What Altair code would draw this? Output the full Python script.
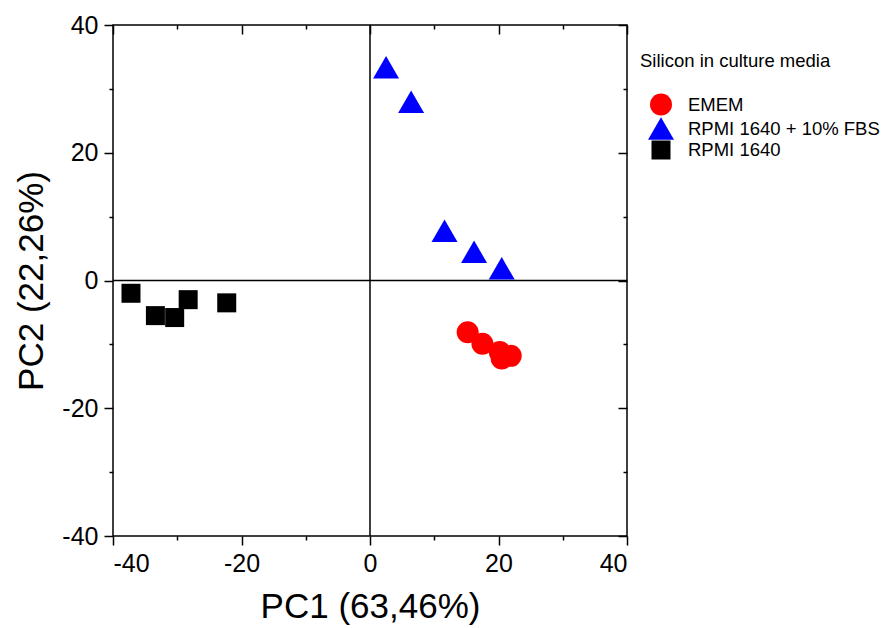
import altair as alt
import pandas as pd

FONT = "Liberation Sans"

groups = ["EMEM", "RPMI 1640 + 10% FBS", "RPMI 1640"]
colors = ["#ff0000", "#0000ff", "#000000"]
shapes = ["circle", "triangle-up", "square"]
sizes = [484, 676, 361]

emem_x = [15.2, 17.5, 20.2, 20.5, 21.9]
emem_y = [-8.1, -9.9, -11.2, -12.2, -11.8]
fbs_x = [2.5, 6.4, 11.6, 16.2, 20.5]
fbs_y = [33.4, 28.0, 7.8, 4.5, 1.9]
rpmi_x = [-37.2, -33.4, -30.4, -28.3, -22.3]
rpmi_y = [-2.0, -5.5, -5.8, -3.0, -3.5]

x_major = [-40, -20, 0, 20, 40]
x_minor = [-30, -10, 10, 30]
y_major = [-40, -20, 0, 20, 40]
y_minor = [-30, -10, 10, 30]
zero = [0]

rows = []
for g, xs_, ys_ in zip(groups, [emem_x, fbs_x, rpmi_x], [emem_y, fbs_y, rpmi_y]):
    for a, b in zip(xs_, ys_):
        rows.append({"pc1": a, "pc2": b, "group": g})
df = pd.DataFrame(rows)

xsc = alt.Scale(domain=[-40, 40], nice=False, zero=False)
ysc = alt.Scale(domain=[-40, 40], nice=False, zero=False)

def ax(orient, values, size, offset=0, labels=False, title=None, **kw):
    d = dict(orient=orient, values=values, tickSize=size, tickWidth=1.5,
             tickColor="black", domain=False, grid=False, labels=labels,
             title=title, offset=offset)
    d.update(kw)
    return alt.Axis(**d)

leg = alt.Legend(
    title="Silicon in culture media", orient="none", legendX=527, legendY=27,
    titleFont=FONT, titleFontSize=18.5, titleFontWeight="normal", titleColor="black",
    titlePadding=23, titleLimit=400,
    labelFont=FONT, labelFontSize=18.5, labelColor="black", labelLimit=400,
    symbolOffset=8, labelOffset=14, rowPadding=0, symbolStrokeWidth=0,
)

lab = dict(labelFont=FONT, labelFontSize=25, labelColor="black", labelPadding=6,
           labelExpr="'' + datum.value",
           titleFont=FONT, titleFontSize=35, titleFontWeight="normal",
           titleColor="black")

base = alt.Chart(df)

points = base.mark_point(filled=True, opacity=1, strokeWidth=0).encode(
    x=alt.X("pc1:Q", scale=xsc, axis=ax(
        "bottom", x_major, 9, labels=True, title="PC1 (63,46%)",
        titlePadding=13, **lab)),
    y=alt.Y("pc2:Q", scale=ysc, axis=ax(
        "left", y_major, 9, labels=True, title="PC2 (22,26%)",
        titlePadding=12, **lab)),
    color=alt.Color("group:N", scale=alt.Scale(domain=groups, range=colors), legend=leg),
    shape=alt.Shape("group:N", scale=alt.Scale(domain=groups, range=shapes), legend=leg),
    size=alt.Size("group:N", scale=alt.Scale(type="ordinal", domain=groups, range=sizes),
                  legend=leg),
)

minor_bl = base.mark_point(opacity=0).encode(
    x=alt.X("pc1:Q", scale=xsc, axis=ax("bottom", x_minor, 4)),
    y=alt.Y("pc2:Q", scale=ysc, axis=ax("left", y_minor, 4)),
)
major_tr = base.mark_point(opacity=0).encode(
    x=alt.X("pc1:Q", scale=xsc, axis=ax("top", x_major, 9, offset=-9)),
    y=alt.Y("pc2:Q", scale=ysc, axis=ax("right", y_major, 9, offset=-9)),
)
minor_tr = base.mark_point(opacity=0).encode(
    x=alt.X("pc1:Q", scale=xsc, axis=ax("top", x_minor, 4, offset=-4)),
    y=alt.Y("pc2:Q", scale=ysc, axis=ax("right", y_minor, 4, offset=-4)),
)

zdf = pd.DataFrame({"v": zero})
vrule = alt.Chart(zdf).mark_rule(color="black", strokeWidth=1.5).encode(
    x=alt.X("v:Q", scale=xsc, axis=None))
hrule = alt.Chart(zdf).mark_rule(color="black", strokeWidth=1.5).encode(
    y=alt.Y("v:Q", scale=ysc, axis=None))

chart = alt.layer(vrule, hrule, minor_bl, major_tr, minor_tr, points).resolve_axis(
    x="independent", y="independent"
).properties(
    width=514, height=511,
    autosize=alt.AutoSizeParams(type="none"),
    padding={"left": 113, "top": 25, "right": 256, "bottom": 92},
).configure(font=FONT).configure_view(stroke="black", strokeWidth=1.5)

chart.save("out.html", embed_options={"renderer": "svg", "actions": False})
